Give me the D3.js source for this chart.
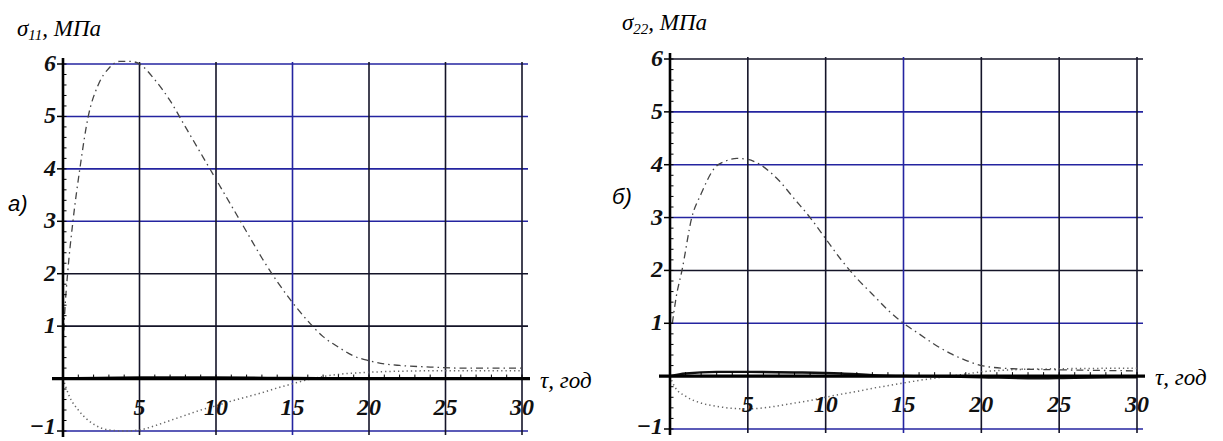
<!DOCTYPE html>
<html>
<head>
<meta charset="utf-8">
<script src="https://cdn.jsdelivr.net/npm/d3@7"></script>
<style>
  html, body { margin: 0; padding: 0; background: #fff; }
  svg { display: block; }
  .serif { font-family: "Liberation Serif", "DejaVu Serif", "Times New Roman", serif; font-style: italic; }
  .sans { font-family: "Liberation Sans", Arial, sans-serif; font-style: italic; }
</style>
</head>
<body>
<svg id="chart" width="1223" height="441"></svg>
<script>
// ---------- DATA ----------
const xTicks = [5, 10, 15, 20, 25, 30];
const yTicks = [-1, 1, 2, 3, 4, 5, 6];
const xTickLabels = ["5", "10", "15", "20", "25", "30"];
const yTickLabels = ["\u22121", "1", "2", "3", "4", "5", "6"];

// Panel а) σ11
const leftT_dashdot = [0, 0.12, 0.3, 0.65, 1.1, 1.65, 2.3, 3.0, 3.7, 4.4, 5, 6, 7, 8, 9, 10, 11, 12, 13, 14, 15, 16, 17, 18, 19, 20, 21, 22, 24, 26, 28, 30];
const leftV_dashdot = [0.6, 1.3, 2.0, 3.0, 4.0, 5.0, 5.6, 5.92, 6.05, 6.05, 6.0, 5.7, 5.3, 4.8, 4.3, 3.8, 3.3, 2.8, 2.3, 1.85, 1.45, 1.1, 0.8, 0.6, 0.43, 0.34, 0.28, 0.25, 0.22, 0.2, 0.2, 0.2];
const leftT_dotted = [0, 0.45, 1, 2, 3, 4, 5, 6, 7, 8, 9, 10, 11, 12, 13, 14, 15, 16, 17, 18, 20, 22, 25, 30];
const leftV_dotted = [0, -0.36, -0.6, -0.87, -0.98, -1.0, -0.98, -0.9, -0.8, -0.7, -0.6, -0.52, -0.43, -0.35, -0.27, -0.18, -0.1, -0.02, 0.04, 0.08, 0.12, 0.14, 0.15, 0.15];
const leftT_solid = [0, 5, 10, 15, 20, 25, 30];
const leftV_solid = [0, 0.02, 0.02, 0.01, 0, 0, 0];

// Panel б) σ22
const rightT_dashdot = [0.15, 0.4, 0.77, 1.4, 2.0, 2.9, 3.5, 4.3, 5, 5.8, 7, 8, 9, 10, 11, 12, 13, 14, 15, 16, 17, 18, 19, 20, 22, 25, 30];
const rightV_dashdot = [1.0, 1.5, 2.0, 3.0, 3.45, 3.95, 4.06, 4.12, 4.1, 4.0, 3.7, 3.35, 3.0, 2.6, 2.2, 1.85, 1.55, 1.25, 1.0, 0.8, 0.6, 0.43, 0.3, 0.2, 0.14, 0.12, 0.1];
const rightT_dotted = [0, 0.3, 1, 1.9, 3, 4, 5, 6, 7, 8, 9, 10, 11, 12, 13, 14, 15, 16, 17, 18, 19, 20, 22, 25, 30];
const rightV_dotted = [0, -0.2, -0.38, -0.5, -0.57, -0.61, -0.62, -0.6, -0.56, -0.51, -0.46, -0.4, -0.34, -0.29, -0.23, -0.18, -0.13, -0.08, -0.04, 0, 0.04, 0.08, 0.12, 0.14, 0.15];
const rightT_solid = [0, 1, 3, 5, 8, 11, 13, 16, 20, 23, 26, 30];
const rightV_solid = [0, 0.05, 0.08, 0.08, 0.07, 0.05, 0.02, 0, -0.02, -0.04, -0.03, -0.02];

// ---------- STYLE ----------
const BLUE = "#2424a0", DARK = "#141428";
const leftHGridColors  = {"-1": BLUE, "1": DARK, "2": DARK, "3": BLUE, "4": BLUE, "5": BLUE, "6": BLUE};
const leftVGridColors  = {5: DARK, 10: DARK, 15: BLUE, 20: DARK, 25: DARK, 30: DARK};
const rightHGridColors = {"-1": BLUE, "1": BLUE, "2": DARK, "3": BLUE, "4": BLUE, "5": BLUE, "6": DARK};
const rightVGridColors = {5: DARK, 10: DARK, 15: BLUE, 20: DARK, 25: DARK, 30: DARK};

const svg = d3.select("#chart");

function zip(ts, vs) { return ts.map((t, i) => [t, vs[i]]); }

function drawPanel(p) {
  const x = d3.scaleLinear().domain([0, 30]).range(p.xRange);
  const y = d3.scaleLinear().domain([-1, 6]).range(p.yRange);
  const g = svg.append("g");

  yTicks.forEach(v => {
    g.append("line")
      .attr("x1", x(0)).attr("x2", x(30) + 6)
      .attr("y1", y(v)).attr("y2", y(v))
      .attr("stroke", p.hColors[String(v)]).attr("stroke-width", 1.6);
  });
  xTicks.forEach(v => {
    g.append("line")
      .attr("x1", x(v)).attr("x2", x(v))
      .attr("y1", y(6) - 2).attr("y2", y(-1) + 4)
      .attr("stroke", p.vColors[v]).attr("stroke-width", 1.6);
  });

  const line = d3.line().x(d => x(d[0])).y(d => y(d[1])).curve(d3.curveMonotoneX);
  g.append("path").datum(zip(p.solidT, p.solidV)).attr("d", line)
    .attr("fill", "none").attr("stroke", "#111").attr("stroke-width", 2.4);
  g.append("path").datum(zip(p.dotT, p.dotV)).attr("d", line)
    .attr("fill", "none").attr("stroke", "#666").attr("stroke-width", 1.5)
    .attr("stroke-dasharray", "1.3,3");
  g.append("path").datum(zip(p.ddT, p.ddV)).attr("d", line)
    .attr("fill", "none").attr("stroke", "#444").attr("stroke-width", 1.3)
    .attr("stroke-dasharray", "7,4,1.5,4");

  g.append("line")
    .attr("x1", x(0) - 11).attr("x2", x(30) + 8)
    .attr("y1", y(0)).attr("y2", y(0))
    .attr("stroke", "#000").attr("stroke-width", 3.2);
  g.append("line")
    .attr("x1", x(0)).attr("x2", x(0))
    .attr("y1", y(6) - 6).attr("y2", y(-1) + 6)
    .attr("stroke", "#000").attr("stroke-width", 2.6);

  d3.range(-1, 6.001, 0.2).forEach(v => {
    g.append("line").attr("x1", x(0)).attr("x2", x(0) + 3.5)
      .attr("y1", y(v)).attr("y2", y(v)).attr("stroke", "#000").attr("stroke-width", 1);
  });
  yTicks.forEach(v => {
    g.append("line").attr("x1", x(0) - 6).attr("x2", x(0))
      .attr("y1", y(v)).attr("y2", y(v)).attr("stroke", "#000").attr("stroke-width", 1.5);
  });
  d3.range(1, 30.001, 1).forEach(v => {
    g.append("line").attr("x1", x(v)).attr("x2", x(v))
      .attr("y1", y(0) - 4).attr("y2", y(0)).attr("stroke", "#000").attr("stroke-width", 1);
  });

  yTicks.forEach((v, i) => {
    g.append("text").attr("class", "serif")
      .attr("x", x(0) - 7).attr("y", Math.min(y(v) + 7, 434))
      .attr("text-anchor", "end")
      .attr("font-size", 24).attr("font-weight", "bold").attr("fill", "#111")
      .text(yTickLabels[i]);
  });
  xTicks.forEach((v, i) => {
    g.append("text").attr("class", "serif")
      .attr("x", x(v)).attr("y", y(0) + 36)
      .attr("text-anchor", "middle")
      .attr("font-size", 24).attr("font-weight", "bold").attr("fill", "#111")
      .text(xTickLabels[i]);
  });

  g.append("text").attr("class", "serif")
    .attr("x", x(30) + 18).attr("y", y(0) + 9)
    .attr("font-size", 23).attr("fill", "#000")
    .text("\u03C4, год");

  const t = g.append("text").attr("class", "serif")
    .attr("x", p.titleX).attr("y", p.titleY)
    .attr("font-size", 23).attr("fill", "#000");
  t.append("tspan").text("\u03C3");
  t.append("tspan").attr("font-size", 15).attr("dy", 4).text(p.sub);
  t.append("tspan").attr("dy", -4).text(", МПа");

  g.append("text").attr("class", "sans")
    .attr("x", p.labelX).attr("y", p.labelY)
    .attr("font-size", 22).attr("fill", "#000")
    .text(p.label);
}

drawPanel({
  xRange: [63, 522], yRange: [431, 64],
  hColors: leftHGridColors, vColors: leftVGridColors,
  ddT: leftT_dashdot, ddV: leftV_dashdot,
  dotT: leftT_dotted, dotV: leftV_dotted,
  solidT: leftT_solid, solidV: leftV_solid,
  titleX: 17, titleY: 36, sub: "11",
  label: "а)", labelX: 8, labelY: 211
});
drawPanel({
  xRange: [670, 1137], yRange: [429, 59],
  hColors: rightHGridColors, vColors: rightVGridColors,
  ddT: rightT_dashdot, ddV: rightV_dashdot,
  dotT: rightT_dotted, dotV: rightV_dotted,
  solidT: rightT_solid, solidV: rightV_solid,
  titleX: 622, titleY: 30, sub: "22",
  label: "б)", labelX: 612, labelY: 204
});
</script>
</body>
</html>
